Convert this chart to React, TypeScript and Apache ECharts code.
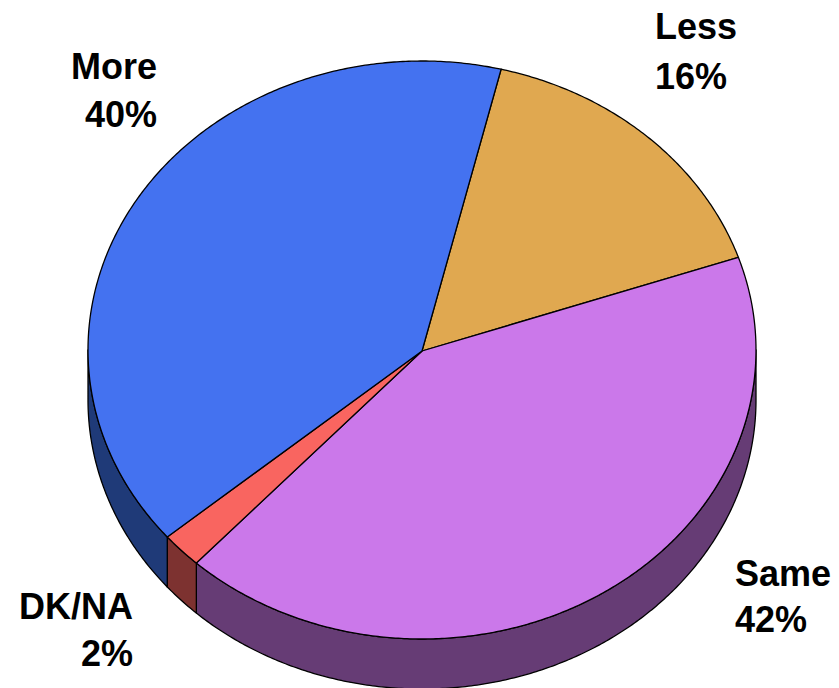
import React, { useEffect, useRef } from "react";
import * as echarts from "echarts";

const categories = ["Less", "Same", "DK/NA", "More"];
const values = [16, 42, 2, 40];
const topColors = ["#E0A850", "#CB78EA", "#F96560", "#4472F0"];
const sideColors = ["#705428", "#663C75", "#7D3230", "#1F3A78"];
const labelX = [655, 735, 133, 157];
const nameBaseY = [37, 584, 617, 77];
const valueBaseY = [87, 630, 664, 125];
const labelAlign = ["left", "left", "right", "right"];

const START_DEG = 13.7;
const CX = 422;
const CY = 350;
const RX = 334;
const RY = 289;
const DEPTH = 50;
const FONT = 'bold 36px "Liberation Sans", Arial, sans-serif';

const total = values.reduce((a, b) => a + b, 0);
function sliceRange(i: number): [number, number] {
  let before = 0;
  for (let k = 0; k < i; k++) before += values[k];
  return [START_DEG + (before / total) * 360, START_DEG + ((before + values[i]) / total) * 360];
}
function rimPoint(deg: number, drop = 0): number[] {
  const r = (deg * Math.PI) / 180;
  return [CX + RX * Math.sin(r), CY - RY * Math.cos(r) + drop];
}
function arcPoints(a: number, b: number, drop = 0): number[][] {
  const n = Math.max(2, Math.ceil(Math.abs(b - a) * 2));
  const pts: number[][] = [];
  for (let i = 0; i <= n; i++) pts.push(rimPoint(a + ((b - a) * i) / n, drop));
  return pts;
}
// the lower half of the rim (90..270 clockwise from the top) is what faces the viewer
function frontRanges(a: number, b: number): [number, number][] {
  const out: [number, number][] = [];
  for (const shift of [0, 360]) {
    const lo = Math.max(a, 90 + shift);
    const hi = Math.min(b, 270 + shift);
    if (hi > lo) out.push([lo, hi]);
  }
  return out;
}
const edge = { stroke: "#000", lineWidth: 1.3, lineJoin: "round" };

export default function App() {
  const ref = useRef<HTMLDivElement>(null);
  useEffect(() => {
    document.body.style.margin = "0";
    const chart = echarts.init(ref.current!, undefined, { renderer: "svg" });
    const data = values.map((v) => [v]);
    chart.setOption({
      animation: false,
      backgroundColor: "#fff",
      series: [
        {
          type: "custom",
          coordinateSystem: "none",
          z: 1,
          silent: true,
          data,
          renderItem: (p: any) => {
            const [a, b] = sliceRange(p.dataIndex);
            return {
              type: "group",
              children: frontRanges(a, b).map(([lo, hi]) => ({
                type: "polygon",
                shape: { points: [...arcPoints(lo, hi), ...arcPoints(hi, lo, DEPTH)] },
                style: { fill: sideColors[p.dataIndex], ...edge },
              })),
            };
          },
        },
        {
          type: "custom",
          coordinateSystem: "none",
          z: 2,
          silent: true,
          data,
          renderItem: (p: any) => {
            const [a, b] = sliceRange(p.dataIndex);
            return {
              type: "polygon",
              shape: { points: [[CX, CY + 1], ...arcPoints(a, b)] },
              style: { fill: topColors[p.dataIndex], ...edge },
            };
          },
        },
        {
          type: "custom",
          coordinateSystem: "none",
          z: 3,
          silent: true,
          data,
          renderItem: (p: any) => {
            const i = p.dataIndex;
            const line = (text: string, y: number) => ({
              type: "text",
              x: labelX[i],
              y,
              style: { text, fill: "#000", font: FONT, align: labelAlign[i], verticalAlign: "bottom" },
            });
            return {
              type: "group",
              children: [
                line(categories[i], nameBaseY[i] + 7),
                line(`${values[i]}%`, valueBaseY[i] + 7),
              ],
            };
          },
        },
      ],
    });
    return () => chart.dispose();
  }, []);
  return <div ref={ref} style={{ width: 839, height: 688 }} />;
}
